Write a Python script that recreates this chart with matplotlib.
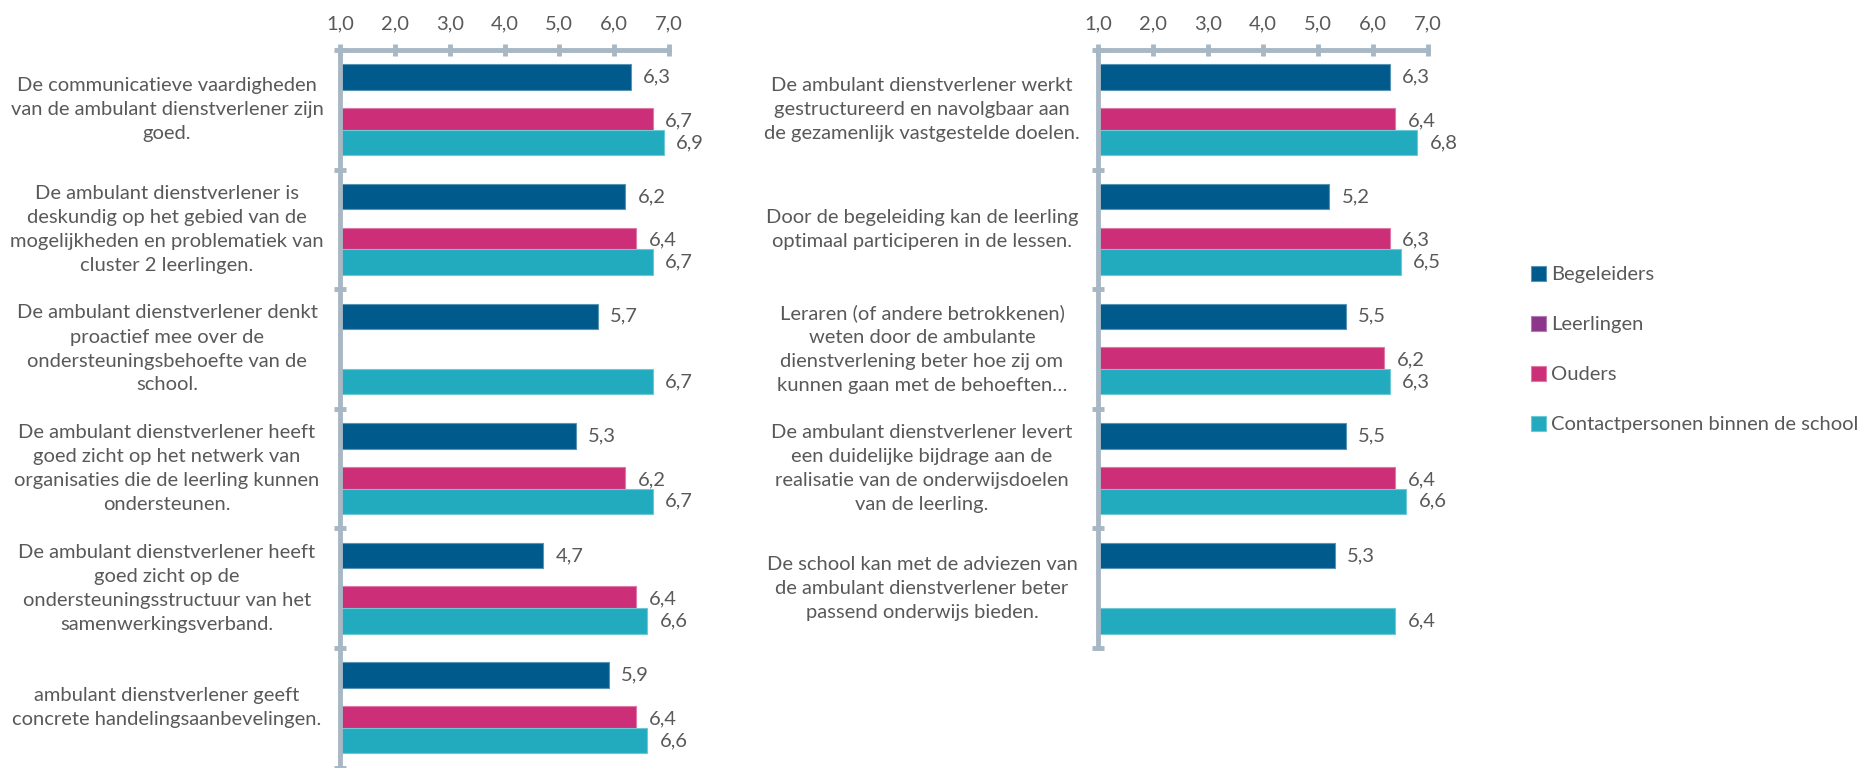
import matplotlib
matplotlib.use("Agg")
import matplotlib.pyplot as plt
from matplotlib.patches import Patch
from matplotlib.transforms import blended_transform_factory
import numpy as np

# ---------------- data ----------------
series = ["Begeleiders", "Leerlingen", "Ouders", "Contactpersonen binnen de school"]
colors = ["#005A8C", "#8B358B", "#CC2F77", "#22ABBF"]

left_categories = [
    "De communicatieve vaardigheden\nvan de ambulant dienstverlener zijn\ngoed.",
    "De ambulant dienstverlener is\ndeskundig op het gebied van de\nmogelijkheden en problematiek van\ncluster 2 leerlingen.",
    "De ambulant dienstverlener denkt\nproactief mee over de\nondersteuningsbehoefte van de\nschool.",
    "De ambulant dienstverlener heeft\ngoed zicht op het netwerk van\norganisaties die de leerling kunnen\nondersteunen.",
    "De ambulant dienstverlener heeft\ngoed zicht op de\nondersteuningsstructuur van het\nsamenwerkingsverband.",
    "ambulant dienstverlener geeft\nconcrete handelingsaanbevelingen.",
]
left_begeleiders = [6.3, 6.2, 5.7, 5.3, 4.7, 5.9]
left_leerlingen = [None, None, None, None, None, None]
left_ouders = [6.7, 6.4, None, 6.2, 6.4, 6.4]
left_contact = [6.9, 6.7, 6.7, 6.7, 6.6, 6.6]

right_categories = [
    "De ambulant dienstverlener werkt\ngestructureerd en navolgbaar aan\nde gezamenlijk vastgestelde doelen.",
    "Door de begeleiding kan de leerling\noptimaal participeren in de lessen.",
    "Leraren (of andere betrokkenen)\nweten door de ambulante\ndienstverlening beter hoe zij om\nkunnen gaan met de behoeften\u2026",
    "De ambulant dienstverlener levert\neen duidelijke bijdrage aan de\nrealisatie van de onderwijsdoelen\nvan de leerling.",
    "De school kan met de adviezen van\nde ambulant dienstverlener beter\npassend onderwijs bieden.",
]
right_begeleiders = [6.3, 5.2, 5.5, 5.5, 5.3]
right_leerlingen = [None, None, None, None, None]
right_ouders = [6.4, 6.3, 6.2, 6.4, None]
right_contact = [6.8, 6.5, 6.3, 6.6, 6.4]

x_ticks = [1, 2, 3, 4, 5, 6, 7]

# ---------------- style ----------------
plt.rcParams['font.family'] = ['Lato', 'DejaVu Sans']
TXT = "#595959"
AXC = "#A7B7C4"
FS = 14.5

W, H = 1857, 768
fig = plt.figure(figsize=(W / 100, H / 100), dpi=100)

cat_px = 119.6
top_px = 50


def fmt(v):
    return f"{v:.1f}".replace(".", ",")


def lighten(c, f=0.35):
    import matplotlib.colors as mc
    r, g, b = mc.to_rgb(c)
    return (r + (1 - r) * f, g + (1 - g) * f, b + (1 - b) * f)


def draw(x0_px, x1_px, cats, data, label_x_px):
    n = len(cats)
    h_px = n * cat_px
    ax = fig.add_axes([x0_px / W, 1 - (top_px + h_px) / H, (x1_px - x0_px) / W, h_px / H])
    d = 0.182
    bh = 0.212
    ypos = np.arange(n)
    for j, vals in enumerate(data):
        for i, v in enumerate(vals):
            if v is None:
                continue
            y = ypos[i] + (j - 1.5) * d
            ax.barh(y, v - 1, left=1, height=bh, color=colors[j],
                    edgecolor=lighten(colors[j]), linewidth=0.8, zorder=1 + j * 0.01)
            ax.annotate(fmt(v), xy=(v, y), xytext=(9, 0), textcoords="offset points",
                        va="center", ha="left", fontsize=FS, color=TXT)
    ax.set_xlim(1, 7)
    ax.set_ylim(n - 0.5, -0.5)
    for s in ["right", "bottom"]:
        ax.spines[s].set_visible(False)
    for s in ["top", "left"]:
        ax.spines[s].set_color(AXC)
        ax.spines[s].set_linewidth(3.5)
        ax.spines[s].set_zorder(3)
    ax.xaxis.tick_top()
    ax.set_xticks(x_ticks)
    ax.set_xticklabels([fmt(t) for t in x_ticks])
    ax.tick_params(axis="x", direction="inout", length=9, width=3.5, color=AXC,
                   labelcolor=TXT, labelsize=FS, pad=8)
    ax.set_yticks(np.arange(n + 1) - 0.5)
    ax.set_yticklabels([])
    ax.tick_params(axis="y", direction="inout", length=9, width=3.5, color=AXC)
    tr = blended_transform_factory(fig.transFigure, ax.transData)
    for i, c in enumerate(cats):
        ax.text(label_x_px / W, i, c, transform=tr, ha="center", va="center",
                multialignment="center", fontsize=FS, color=TXT, linespacing=1.5)
    return ax


draw(340, 669, left_categories,
     [left_begeleiders, left_leerlingen, left_ouders, left_contact], 167)
draw(1098, 1428, right_categories,
     [right_begeleiders, right_leerlingen, right_ouders, right_contact], 922)

handles = [Patch(facecolor=c, edgecolor=lighten(c), linewidth=0.8) for c in colors]
fig.legend(handles, series, loc="upper left", bbox_to_anchor=(1531 / W, 1 - 266 / H),
           frameon=False, fontsize=FS, labelcolor=TXT, handlelength=0.75,
           handleheight=0.75, handletextpad=0.25, labelspacing=1.62,
           borderpad=0, borderaxespad=0)

fig.savefig("out.png", dpi=100)
